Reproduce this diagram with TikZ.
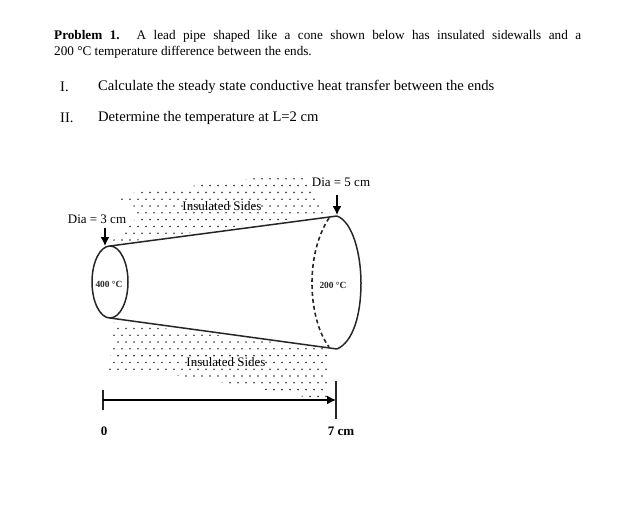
\documentclass[tikz,border=0pt]{standalone}
\usepackage{fontspec}
\setmainfont{Liberation Serif}
\usetikzlibrary{arrows.meta}
\tikzset{
  wall/.style={line width=1.5pt,black!85},
  pointer/.style={line width=1.4pt,-{Latex[length=9pt,width=9pt]}},
  bodytext/.style={anchor=west,inner sep=0pt,font=\fontsize{14.6}{15.5}\selectfont},
  figtext/.style={inner sep=0pt,font=\fontsize{13}{14}\selectfont},
  smalltext/.style={inner sep=0pt,font=\fontsize{9.4}{10}\selectfont\bfseries,black!85},
}
\newcommand{\dotfield}{%
  \foreach \row in {0,...,34}{
    \foreach \col in {0,...,32}{
      \path[fill=black!80] ({90+8*\col+4*mod(\row,2)},{172+6.8*\row}) circle (0.9pt);
    }
  }
}
\begin{document}
\begin{tikzpicture}[x=1pt,y=-1pt]
  \useasboundingbox (0,0) rectangle (636,516);
  % problem text
  \node[bodytext,font=\fontsize{13.2}{15.5}\selectfont,text width=527pt,align=justify] (problem) at (54,44.5)
    {\textbf{Problem 1.} A lead pipe shaped like a cone shown below has insulated sidewalls and a\linebreak 200 °C temperature difference between the ends.};
  \node[bodytext] (numone) at (60,86.5) {I.};
  \node[bodytext] (partone) at (98,86.5) {Calculate the steady state conductive heat transfer between the ends};
  \node[bodytext] (numtwo) at (60,117.5) {II.};
  \node[bodytext] (parttwo) at (98,117.5) {Determine the temperature at L=2 cm};
  % dots above and below the cone
  \begin{scope}
    \clip (108,196) -- (200,185) -- (304,172) -- (318,195) -- (330,214) -- (110,244)
      -- (115,238) -- (122,230) -- (137,218) -- (133,204) -- cycle;
    \dotfield
  \end{scope}
  \begin{scope}
    \clip (114,322) -- (329,349) -- (328,402) -- (305,397) -- (280,392) -- (240,386)
      -- (210,380) -- (165,374) -- (109,370) -- (112,345) -- cycle;
    \dotfield
  \end{scope}
  % cone
  \coordinate (smalltop) at (110,246);
  \coordinate (smallbot) at (110,318);
  \coordinate (bigtop) at (337,216);
  \coordinate (bigbot) at (337,349);
  \draw[wall] (110,282) ellipse (18 and 36);
  \draw[wall] (smalltop) -- (bigtop);
  \draw[wall] (smallbot) -- (bigbot);
  \draw[wall] (bigtop) .. controls (353,222) and (361,255) .. (361,283)
    .. controls (361,315) and (353,342) .. (bigbot);
  \draw[wall,dash pattern=on 4pt off 3pt,line width=1.6pt] (329,218)
    .. controls (318,235) and (312,258) .. (312,283)
    .. controls (312,308) and (318,332) .. (329,347);
  % labels
  \node[figtext] (diasmall) at (97,219) {Dia = 3 cm};
  \node[figtext] (diabig) at (341,182) {Dia = 5 cm};
  \node[figtext] (sidestop) at (222,206) {Insulated Sides};
  \node[figtext] (sidesbot) at (226,362) {Insulated Sides};
  \node[smalltext] (hot) at (109,284) {400 °C};
  \node[smalltext] (cold) at (333,285) {200 °C};
  \coordinate (smallarrow) at (105,228);
  \coordinate (smalltip) at (105,246);
  \coordinate (bigarrow) at (337,195);
  \coordinate (bigtip) at (337,215);
  \draw[pointer] (smallarrow) -- (smalltip);
  \draw[pointer] (bigarrow) -- (bigtip);
  % length scale
  \coordinate (zerotop) at (103,390);
  \coordinate (zerobot) at (103,410);
  \coordinate (zeromid) at (103,400);
  \coordinate (endtop) at (336,381);
  \coordinate (endbot) at (336,419);
  \coordinate (endmid) at (336,400);
  \draw[wall] (zerotop) -- (zerobot);
  \draw[wall] (endtop) -- (endbot);
  \draw[pointer] (zeromid) -- (endmid);
  \node[figtext,font=\fontsize{13}{14}\selectfont\bfseries] (zero) at (104,431) {0};
  \node[figtext,font=\fontsize{13}{14}\selectfont\bfseries] (seven) at (341,431) {7 cm};
\end{tikzpicture}
\end{document}
